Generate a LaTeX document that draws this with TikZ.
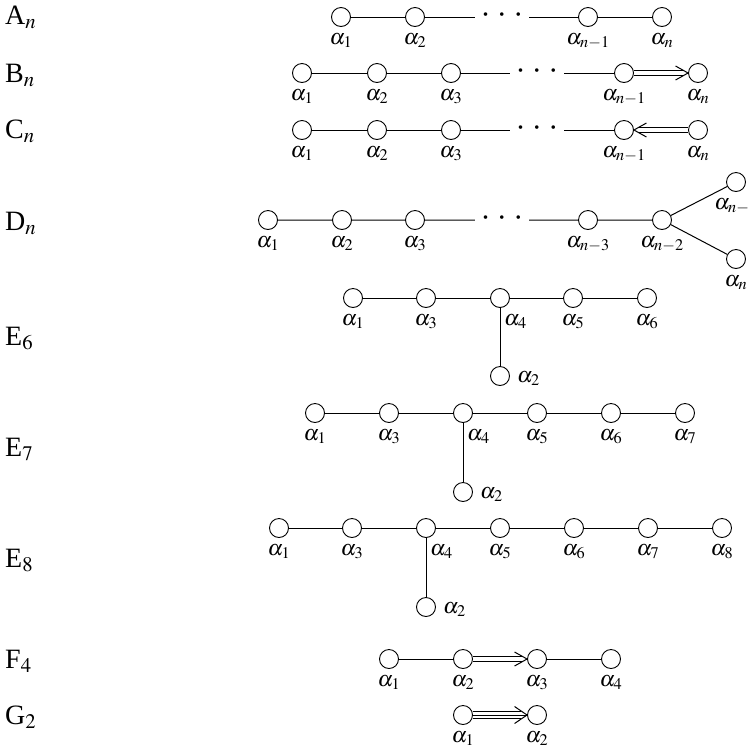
\documentclass[tikz,border=0pt]{standalone}
\usepackage{mathptmx}
\usepackage{fontspec}
\setmainfont{Liberation Serif}
\usetikzlibrary{calc}

\tikzset{
  root/.style={circle, draw, line width=0.9pt, minimum size=19pt, inner sep=0pt},
  bond/.style={line width=1pt},
  lab/.style={font=\fontsize{22}{24}\selectfont, inner sep=0pt, anchor=base},
  sidelab/.style={lab, anchor=base west},
  typ/.style={font=\fontsize{28}{30}\selectfont, inner sep=0pt, anchor=base west},
  dotsnode/.style={font=\fontsize{30}{32}\selectfont, inner sep=0pt, minimum width=54pt,
                   text height=8pt, text depth=0pt, anchor=base},
}

% three spaced dots standing for the omitted part of a chain
\newcommand{\chaindots}{·\hspace{6.5pt}·\hspace{6.5pt}·}

% chevron of a multiple bond: tip at #1, opening towards #2 (+1 right / -1 left), half-spread #3
\newcommand{\chevron}[3]{%
  \draw[bond, line join=miter] ($(#1)+(#2*12.5,-#3)$) -- (#1) -- ($(#1)+(#2*12.5,#3)$);}

\begin{document}
\begin{tikzpicture}[x=1pt, y=-1pt]
\useasboundingbox (0,0) rectangle (750,748);

% ---------- type names ----------
\node[typ] (tA) at (5,24)  {A$_n$};
\node[typ] (tB) at (5,82)  {B$_n$};
\node[typ] (tC) at (5,138) {C$_n$};
\node[typ] (tD) at (5,230) {D$_n$};
\node[typ] (tE6) at (5,345) {E$_6$};
\node[typ] (tE7) at (5,456) {E$_7$};
\node[typ] (tE8) at (5,567) {E$_8$};
\node[typ] (tF) at (5,668) {F$_4$};
\node[typ] (tG) at (5,724) {G$_2$};

% ---------- A_n ----------
\foreach \i/\x/\s in {1/341/1, 2/415/2, 3/588/{n-1}, 4/662/n} {
  \node[root] (A\i) at (\x,17) {};
  \node[lab] (lA\i) at (\x,44) {$\alpha_{\s}$};
}
\node[dotsnode] (Ad) at (502,24) {\chaindots};
\draw[bond] (A1) -- (A2) (A2) -- (A2 -| Ad.west) (A3 -| Ad.east) -- (A3) (A3) -- (A4);

% ---------- B_n ----------
\foreach \i/\x/\s in {1/302/1, 2/377/2, 3/451/3, 4/624/{n-1}, 5/698/n} {
  \node[root] (B\i) at (\x,73) {};
  \node[lab] (lB\i) at (\x,100) {$\alpha_{\s}$};
}
\node[dotsnode] (Bd) at (537,80) {\chaindots};
\draw[bond] (B1) -- (B2) (B2) -- (B3) (B3) -- (B3 -| Bd.west) (B4 -| Bd.east) -- (B4);
\draw[bond] ([yshift=2.2pt]B4.east) -- ([xshift=-4pt,yshift=2.2pt]B5.west)
            ([yshift=-2.2pt]B4.east) -- ([xshift=-4pt,yshift=-2.2pt]B5.west);
\chevron{B5.west}{-1}{7}

% ---------- C_n ----------
\foreach \i/\x/\s in {1/302/1, 2/377/2, 3/451/3, 4/624/{n-1}, 5/698/n} {
  \node[root] (C\i) at (\x,130) {};
  \node[lab] (lC\i) at (\x,157) {$\alpha_{\s}$};
}
\node[dotsnode] (Cd) at (537,137) {\chaindots};
\draw[bond] (C1) -- (C2) (C2) -- (C3) (C3) -- (C3 -| Cd.west) (C4 -| Cd.east) -- (C4);
\draw[bond] ([xshift=4pt,yshift=2.2pt]C4.east) -- ([yshift=2.2pt]C5.west)
            ([xshift=4pt,yshift=-2.2pt]C4.east) -- ([yshift=-2.2pt]C5.west);
\chevron{C4.east}{1}{7}

% ---------- D_n ----------
\foreach \i/\x/\s in {1/268/1, 2/342/2, 3/415/3, 4/588/{n-3}, 5/662/{n-2}} {
  \node[root] (D\i) at (\x,220) {};
  \node[lab] (lD\i) at (\x,247) {$\alpha_{\s}$};
}
\node[root] (D6) at (736,182) {};
\node[lab] (lD6) at (736,209) {$\alpha_{n-1}$};
\node[root] (D7) at (736,259) {};
\node[lab] (lD7) at (736,286) {$\alpha_{n}$};
\node[dotsnode] (Dd) at (502,227) {\chaindots};
\draw[bond] (D1) -- (D2) (D2) -- (D3) (D3) -- (D3 -| Dd.west) (D4 -| Dd.east) -- (D4)
            (D4) -- (D5) (D5) -- (D6) (D5) -- (D7);

% ---------- E_6 ----------
\foreach \i/\x/\s in {1/353/1, 3/426/3, 5/573/5, 6/647/6} {
  \node[root] (Ea\i) at (\x,298) {};
  \node[lab] (lEa\i) at (\x,325) {$\alpha_{\s}$};
}
\node[root] (Ea4) at (500,298) {};
\node[sidelab] (lEa4) at (504,325) {$\alpha_4$};
\node[root] (Ea2) at (500,376) {};
\node[sidelab] (lEa2) at (517,382) {$\alpha_2$};
\draw[bond] (Ea1) -- (Ea3) (Ea3) -- (Ea4) (Ea4) -- (Ea5) (Ea5) -- (Ea6) (Ea4) -- (Ea2);

% ---------- E_7 ----------
\foreach \i/\x/\s in {1/315/1, 3/389/3, 5/537/5, 6/611/6, 7/685/7} {
  \node[root] (Eb\i) at (\x,413) {};
  \node[lab] (lEb\i) at (\x,440) {$\alpha_{\s}$};
}
\node[root] (Eb4) at (463,413) {};
\node[sidelab] (lEb4) at (467,440) {$\alpha_4$};
\node[root] (Eb2) at (463,492) {};
\node[sidelab] (lEb2) at (480,498) {$\alpha_2$};
\draw[bond] (Eb1) -- (Eb3) (Eb3) -- (Eb4) (Eb4) -- (Eb5) (Eb5) -- (Eb6) (Eb6) -- (Eb7) (Eb4) -- (Eb2);

% ---------- E_8 ----------
\foreach \i/\x/\s in {1/279/1, 3/352/3, 5/500/5, 6/574/6, 7/648/7, 8/722/8} {
  \node[root] (Ec\i) at (\x,528) {};
  \node[lab] (lEc\i) at (\x,555) {$\alpha_{\s}$};
}
\node[root] (Ec4) at (426,528) {};
\node[sidelab] (lEc4) at (430,555) {$\alpha_4$};
\node[root] (Ec2) at (426,607) {};
\node[sidelab] (lEc2) at (443,613) {$\alpha_2$};
\draw[bond] (Ec1) -- (Ec3) (Ec3) -- (Ec4) (Ec4) -- (Ec5) (Ec5) -- (Ec6) (Ec6) -- (Ec7) (Ec7) -- (Ec8) (Ec4) -- (Ec2);

% ---------- F_4 ----------
\foreach \i/\x/\s in {1/389/1, 2/463/2, 3/537/3, 4/611/4} {
  \node[root] (F\i) at (\x,659) {};
  \node[lab] (lF\i) at (\x,686) {$\alpha_{\s}$};
}
\draw[bond] (F1) -- (F2) (F3) -- (F4);
\draw[bond] ([yshift=2.2pt]F2.east) -- ([xshift=-4pt,yshift=2.2pt]F3.west)
            ([yshift=-2.2pt]F2.east) -- ([xshift=-4pt,yshift=-2.2pt]F3.west);
\chevron{F3.west}{-1}{7}

% ---------- G_2 ----------
\foreach \i/\x/\s in {1/463/1, 2/537/2} {
  \node[root] (G\i) at (\x,715) {};
  \node[lab] (lG\i) at (\x,742) {$\alpha_{\s}$};
}
\draw[bond] ([yshift=3.5pt]G1.east) -- ([xshift=-6pt,yshift=3.5pt]G2.west)
            (G1.east) -- ([xshift=-1pt]G2.west)
            ([yshift=-3.5pt]G1.east) -- ([xshift=-6pt,yshift=-3.5pt]G2.west);
\chevron{G2.west}{-1}{8.5}
\end{tikzpicture}
\end{document}
